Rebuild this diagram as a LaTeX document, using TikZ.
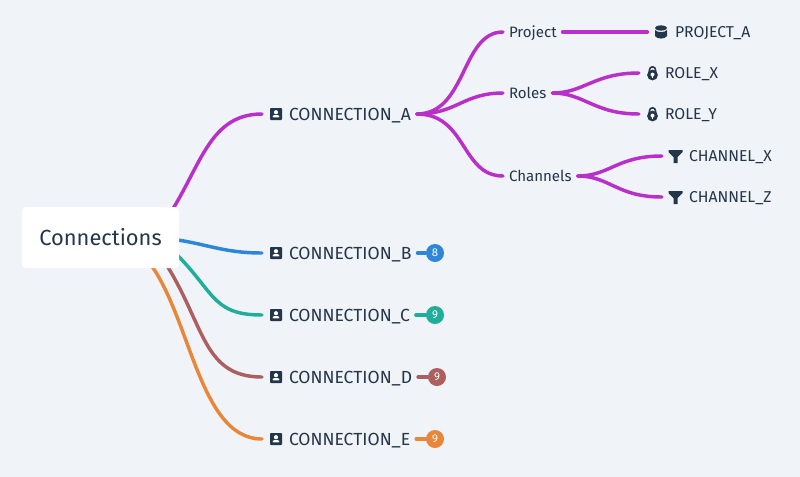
\documentclass[tikz,border=0pt]{standalone}
\usepackage{fontspec}
\setmainfont{Fira Sans}
\definecolor{PageColor}{RGB}{240,243,247}
\definecolor{InkColor}{RGB}{36,54,74}
\definecolor{MagentaColor}{RGB}{185,47,201}
\definecolor{BlueColor}{RGB}{46,134,214}
\definecolor{TealColor}{RGB}{31,174,155}
\definecolor{BrownColor}{RGB}{171,95,95}
\definecolor{OrangeColor}{RGB}{232,135,58}
\usetikzlibrary{backgrounds}
\tikzset{
  rootbox/.style={fill=white, rounded corners=3pt, minimum width=117.75pt, minimum height=45.75pt, inner sep=0pt, text=InkColor, text height=12pt, text depth=0pt, font=\fontsize{16.4}{18}\selectfont},
  label/.style={anchor=west, inner xsep=0pt, outer xsep=4.5pt, inner ysep=0pt, text=InkColor, text height=9pt, text depth=0pt, font=\fontsize{13.15}{15}\selectfont},
  sublabel/.style={label, text height=8pt, font=\fontsize{11.3}{13}\selectfont},
  leaflabel/.style={label, text height=8pt, font=\fontsize{11.8}{13}\selectfont},
  link/.style={line width=2.6pt, line cap=round},
  sublink/.style={link, MagentaColor},
  contacticon/.style={fill=InkColor, rounded corners=0.6pt, minimum size=9pt, inner sep=0pt, outer sep=6pt, path picture={
    \begin{scope}[shift={(path picture bounding box.center)}]
      \fill[white] (0,-1.8) circle (2.1);
      \fill[white] (-3.3,3.3) -- (-3.3,2.6) .. controls (-2.6,0.7) and (2.6,0.7) .. (3.3,2.6) -- (3.3,3.3) -- cycle;
    \end{scope}
  }},
  dbicon/.style={minimum size=10.5pt, inner sep=0pt, outer sep=5pt, path picture={
    \begin{scope}[shift={(path picture bounding box.center)}]
      \fill[InkColor] (0,-4) ellipse (6 and 2.6);
      \fill[InkColor] (-6,-2) .. controls (-4,0.8) and (4,0.8) .. (6,-2) -- (6,4) .. controls (4,7.4) and (-4,7.4) .. (-6,4) -- cycle;
    \end{scope}
  }},
  lockicon/.style={minimum width=8.5pt, minimum height=11pt, inner sep=0pt, outer sep=6pt, path picture={
    \begin{scope}[shift={(path picture bounding box.center)}]
      \draw[InkColor, line width=1.2pt] (-3,-1) -- (-3,-3.2) arc (180:360:3) -- (3,-1);
      \fill[InkColor] (0,2) circle (5.4);
      \fill[white] (0,1.6) circle (2);
      \fill[white] (-0.8,2) rectangle (0.8,5);
    \end{scope}
  }},
  funnelicon/.style={minimum size=10.5pt, inner sep=0pt, outer sep=5pt, path picture={
    \begin{scope}[shift={(path picture bounding box.center)}]
      \fill[InkColor] (-7,-6) -- (7,-6) -- (7,-4) -- (2,1) -- (2,7) -- (-2,7) -- (-2,1) -- (-7,-4) -- cycle;
    \end{scope}
  }},
  badge/.style={circle, minimum size=13.5pt, inner sep=0pt, text=white, font=\fontsize{8.5}{9}\selectfont}
}

\begin{document}
\begin{tikzpicture}[x=0.75pt, y=-0.75pt]
  \useasboundingbox (0,0) rectangle (800,476);
  \node[rootbox] (root) at (100.5,237.5) {Connections};

  \node[contacticon] (iconA) at (276,114) {};
  \node[contacticon] (iconB) at (276,253) {};
  \node[contacticon] (iconC) at (276,315) {};
  \node[contacticon] (iconD) at (276,377) {};
  \node[contacticon] (iconE) at (276,439) {};
  \node[label] (connA) at (283,114) {CONNECTION\_A};
  \node[label] (connB) at (283,253) {CONNECTION\_B};
  \node[label] (connC) at (283,315) {CONNECTION\_C};
  \node[label] (connD) at (283,377) {CONNECTION\_D};
  \node[label] (connE) at (283,439) {CONNECTION\_E};

  \node[badge, fill=BlueColor] (countB) at (435,253) {8};
  \node[badge, fill=TealColor] (countC) at (435,315) {9};
  \node[badge, fill=BrownColor] (countD) at (437,377) {9};
  \node[badge, fill=OrangeColor] (countE) at (435,439) {9};

  \node[sublabel] (project) at (503,32) {Project};
  \node[sublabel] (roles) at (503,93) {Roles};
  \node[sublabel] (channels) at (503,176) {Channels};

  \node[dbicon] (iconP) at (661,32) {};
  \node[lockicon] (iconX) at (652.5,73) {};
  \node[lockicon] (iconY) at (652.5,114) {};
  \node[funnelicon] (iconCX) at (675.5,156) {};
  \node[funnelicon] (iconCZ) at (675.5,197) {};
  \node[leaflabel] (projectA) at (669,32) {PROJECT\_A};
  \node[leaflabel] (roleX) at (659,73) {ROLE\_X};
  \node[leaflabel] (roleY) at (659,114) {ROLE\_Y};
  \node[leaflabel] (channelX) at (683,156) {CHANNEL\_X};
  \node[leaflabel] (channelZ) at (683,197) {CHANNEL\_Z};

  \coordinate (rootA) at (160,228);
  \coordinate (rootB) at (170,239);
  \coordinate (rootC) at (170,248);
  \coordinate (rootD) at (160,255);
  \coordinate (rootE) at (140,252);

  \begin{scope}[on background layer]
    \fill[PageColor] (-2,-2) rectangle (802,478);
    \draw[link, MagentaColor] (rootA) .. controls (200,175) and (205,114) .. (iconA.west);
    \draw[link, BlueColor] (rootB) .. controls (205,243) and (222,253) .. (iconB.west);
    \draw[link, TealColor] (rootC) .. controls (215,290) and (210,315) .. (iconC.west);
    \draw[link, BrownColor] (rootD) .. controls (205,320) and (200,377) .. (iconD.west);
    \draw[link, OrangeColor] (rootE) .. controls (190,300) and (195,439) .. (iconE.west);
    \draw[link, BlueColor] (connB.east) -- (countB);
    \draw[link, TealColor] (connC.east) -- (countC);
    \draw[link, BrownColor] (connD.east) -- (countD);
    \draw[link, OrangeColor] (connE.east) -- (countE);
    \draw[sublink] (connA.east) .. controls +(50,0) and +(-42,0) .. (project.west);
    \draw[sublink] (connA.east) .. controls +(40,0) and +(-40,0) .. (roles.west);
    \draw[sublink] (connA.east) .. controls +(50,0) and +(-42,0) .. (channels.west);
    \draw[sublink] (project.east) -- (iconP.west);
    \draw[sublink] (roles.east) .. controls +(32,0) and +(-45,0) .. (iconX.west);
    \draw[sublink] (roles.east) .. controls +(32,0) and +(-45,0) .. (iconY.west);
    \draw[sublink] (channels.east) .. controls +(32,0) and +(-45,0) .. (iconCX.west);
    \draw[sublink] (channels.east) .. controls +(32,0) and +(-45,0) .. (iconCZ.west);
  \end{scope}
\end{tikzpicture}
\end{document}
